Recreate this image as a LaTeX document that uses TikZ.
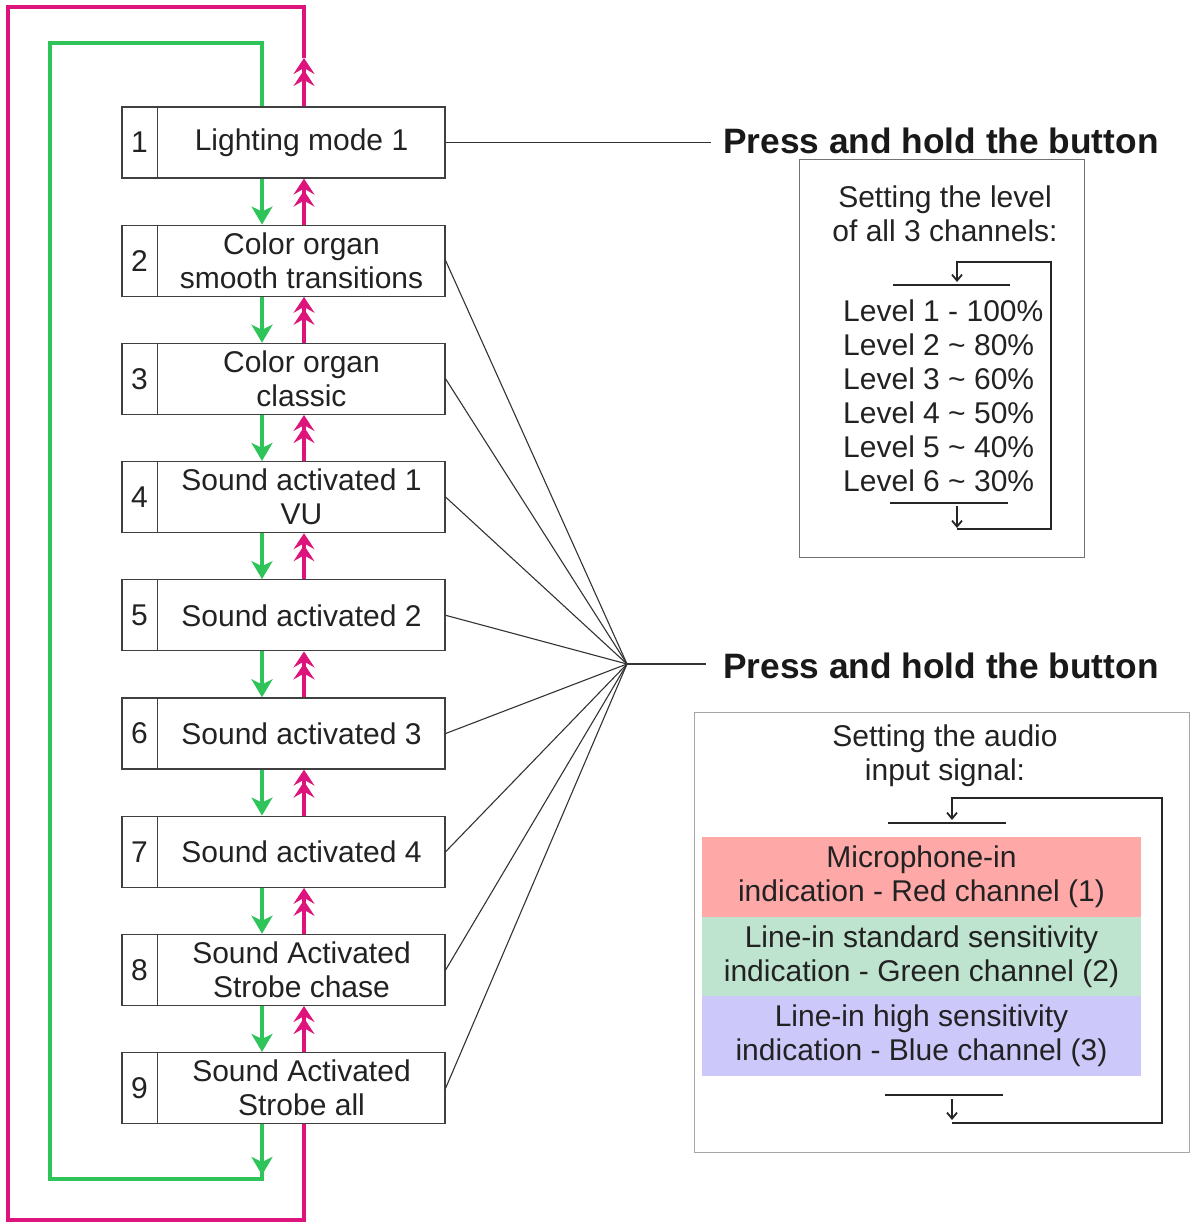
\documentclass[tikz,border=0pt]{standalone}
\usepackage{fontspec}
\setmainfont{Liberation Sans}
\usetikzlibrary{arrows.meta,calc}
\definecolor{mag}{RGB}{222,20,125}
\definecolor{grn}{RGB}{46,196,90}
\definecolor{txt}{RGB}{34,34,34}
\definecolor{redband}{RGB}{255,168,168}
\definecolor{grnband}{RGB}{190,227,206}
\definecolor{bluband}{RGB}{204,200,250}
\begin{document}
\begin{tikzpicture}[x=1pt,y=-1pt,
  every node/.style={text=txt,font=\fontsize{30}{34}\selectfont,inner sep=0pt},
  modebox/.style={draw=black!75,line width=1.3pt,minimum width=323pt,minimum height=71pt},
  thinline/.style={draw=black!80,line width=1.1pt},
  garrow/.style={draw=grn,line width=4pt,-{Stealth[length=18pt,width=21pt,inset=5pt]}},
  marrow/.style={draw=mag,line width=4pt,-{Stealth[length=16pt,width=21pt,inset=6pt,sep=-4pt] Stealth[length=16pt,width=21pt,inset=6pt]}},
  gloop/.style={draw=grn,line width=4pt},
  mloop/.style={draw=mag,line width=3.5pt},
  boldlabel/.style={anchor=west,font=\fontsize{35.3}{40}\selectfont\bfseries,text=black!90},
  panel/.style={line width=1pt},
  loopline/.style={draw=black!85,line width=2.3pt},
  smallarrow/.style={draw=black!85,line width=1.8pt,-{Straight Barb[length=6pt,width=10pt]}},
  band/.style={minimum width=439pt,minimum height=80pt,align=center}
]
\useasboundingbox (0,0) rectangle (1195,1222);
\coordinate (gx) at (262,0);
\coordinate (mx) at (304,0);

% mode boxes
\foreach \i/\t in {1/{Lighting mode 1},2/{Color organ\\smooth transitions},3/{Color organ\\classic},
  4/{Sound activated 1\\VU},5/{Sound activated 2},6/{Sound activated 3},7/{Sound activated 4},
  8/{Sound Activated\\Strobe chase},9/{Sound Activated\\Strobe all}}{
  \node[modebox] (b\i) at (283.5,{142.5+118.2*(\i-1)}) {};
  \draw[draw=black!75,line width=1.3pt] ([xshift=36pt]b\i.north west) -- ([xshift=36pt]b\i.south west);
  \node (n\i) at ([xshift=18pt]b\i.west) {\i};
  \node[align=center] (t\i) at ([xshift=18pt]b\i.center) {\t};
}

% arrows between boxes
\foreach \i in {1,...,8}{
  \pgfmathtruncatemacro\j{\i+1}
  \draw[garrow] (b\i.south -| gx) -- (b\j.north -| gx);
  \draw[marrow] (b\j.north -| mx) -- (b\i.south -| mx);
}

% loops
\coordinate (mtop) at (304,58);
\coordinate (gbot) at (262,1175);
\draw[mloop] (mtop) -- (304,7) -- (8,7) -- (8,1220) -- (304,1220) -- (b9.south -| mx);
\draw[marrow] (b1.north -| mx) -- (mtop);
\draw[gloop] (262,1160) -- (262,1179) -- (50,1179) -- (50,43) -- (262,43) -- (b1.north -| gx);
\draw[garrow] (b9.south -| gx) -- (gbot);

% fan lines
\coordinate (fan) at (627,664);
\coordinate (c1) at (711,142.5);
\coordinate (c2) at (706,664);
\foreach \i in {2,...,9}{\draw[thinline] (b\i.east) -- (fan);}
\draw[thinline] (fan) -- (c2);
\draw[thinline] (b1.east) -- (c1);

\node[boldlabel] (p1) at (723,141) {Press and hold the button};
\node[boldlabel] (p2) at (723,666) {Press and hold the button};

% level panel
\node[draw=black!55,panel,minimum width=285pt,minimum height=397pt] (lvl) at (941.5,358.5) {};
\node[align=center] (lvlt) at (945,214) {Setting the level\\of all 3 channels:};
\foreach \k/\v [count=\c from 0] in {1/- 100\%,2/\textasciitilde{} 80\%,3/\textasciitilde{} 60\%,4/\textasciitilde{} 50\%,5/\textasciitilde{} 40\%,6/\textasciitilde{} 30\%}{
  \node[anchor=base west] (lv\k) at (843,{321+34*\c}) {Level \k{} \v};
}
\draw[loopline] (893,285) -- (1010,285);
\draw[loopline] (890,503) -- (1008,503);
\draw[smallarrow] (957,506) -- (957,528);
\draw[loopline] (957,529) -- (1051,529) -- (1051,262) -- (955.85,262);
\draw[smallarrow] (957,262) -- (957,282);

% audio panel
\node[draw=black!35,panel,minimum width=495pt,minimum height=440pt] (aud) at (941.5,932) {};
\node[align=center] (audt) at (945,756) {Setting the audio\\input signal:};
\node[band,fill=redband] (rb) at (921.5,877) {Microphone-in\\indication - Red channel (1)};
\node[band,fill=grnband] (gb) at (921.5,956.5) {Line-in standard sensitivity\\indication - Green channel (2)};
\node[band,fill=bluband] (bb) at (921.5,1036) {Line-in high sensitivity\\indication - Blue channel (3)};
\draw[loopline] (888,823) -- (1006,823);
\draw[loopline] (885,1095) -- (1003,1095);
\draw[smallarrow] (952,1099) -- (952,1120);
\draw[loopline] (952,1123) -- (1162,1123) -- (1162,798) -- (950.85,798);
\draw[smallarrow] (952,798) -- (952,820);
\end{tikzpicture}
\end{document}
